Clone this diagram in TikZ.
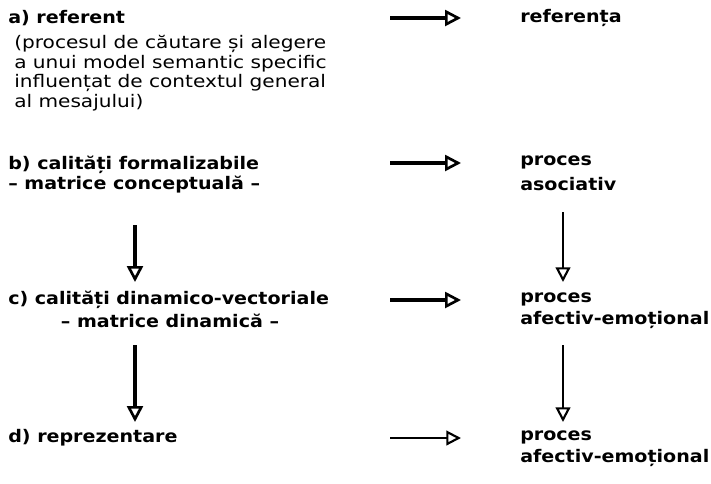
\documentclass[tikz,border=0pt]{standalone}
\usepackage{fontspec}
\setmainfont[FakeStretch=1.1]{DejaVu Sans}
\newfontfamily\parafont[FakeStretch=1.16]{DejaVu Sans}
\usetikzlibrary{arrows.meta}
\begin{document}
\begin{tikzpicture}[x=0.75pt,y=-0.75pt,
    txt/.style={anchor=west,inner sep=0pt,font=\fontsize{13}{15}\selectfont\bfseries},
    para/.style={anchor=north west,inner sep=0pt,align=left,
      font=\parafont\fontsize{13}{14.7}\selectfont},
    bigarrow/.style={line width=2.6pt,-{Triangle[open,length=12pt,width=12pt,line width=2pt]}},
    thinarrow/.style={line width=1.2pt,-{Triangle[open,length=11pt,width=11pt,line width=1.6pt]}}]
  \useasboundingbox (0,0) rectangle (711,483);
  % left column
  \node[txt] (la) at (8,18) {a) referent};
  \node[para] (lp) at (14,35) {(procesul de căutare și alegere\\
      a unui model semantic specific\\
      influențat de contextul general\\
      al mesajului)};
  \node[txt] (lb) at (8,165) {b) calități formalizabile};
  \node[txt] (lb2) at (8,185) {– matrice conceptuală –};
  \node[txt] (lc) at (8,300) {c) calități dinamico-vectoriale};
  \node[txt,anchor=center] (lc2) at (170,321) {– matrice dinamică –};
  \node[txt] (ld) at (8,438) {d) reprezentare};
  % right column
  \node[txt] (ra) at (520,18) {referența};
  \node[txt] (rb) at (520,162) {proces};
  \node[txt] (rb2) at (520,184) {asociativ};
  \node[txt] (rc) at (520,299) {proces};
  \node[txt] (rc2) at (520,320) {afectiv-emoțional};
  \node[txt] (rd) at (520,437) {proces};
  \node[txt] (rd2) at (520,458) {afectiv-emoțional};
  % arrow ends
  \coordinate (ha1) at (390,18);  \coordinate (hb1) at (461,18);
  \coordinate (ha2) at (390,163); \coordinate (hb2) at (461,163);
  \coordinate (ha3) at (390,300); \coordinate (hb3) at (461,300);
  \coordinate (ha4) at (390,438); \coordinate (hb4) at (461,438);
  \coordinate (va1) at (135,225); \coordinate (vb1) at (135,282);
  \coordinate (va2) at (135,345); \coordinate (vb2) at (135,422);
  \coordinate (wa1) at (563,212); \coordinate (wb1) at (563,282);
  \coordinate (wa2) at (563,345); \coordinate (wb2) at (563,422);
  \draw[bigarrow] (ha1)-- (hb1);
  \draw[bigarrow] (ha2)-- (hb2);
  \draw[bigarrow] (ha3)-- (hb3);
  \draw[thinarrow] (ha4)-- (hb4);
  \draw[bigarrow] (va1)-- (vb1);
  \draw[bigarrow] (va2)-- (vb2);
  \draw[thinarrow] (wa1)-- (wb1);
  \draw[thinarrow] (wa2)-- (wb2);
\end{tikzpicture}
\end{document}
